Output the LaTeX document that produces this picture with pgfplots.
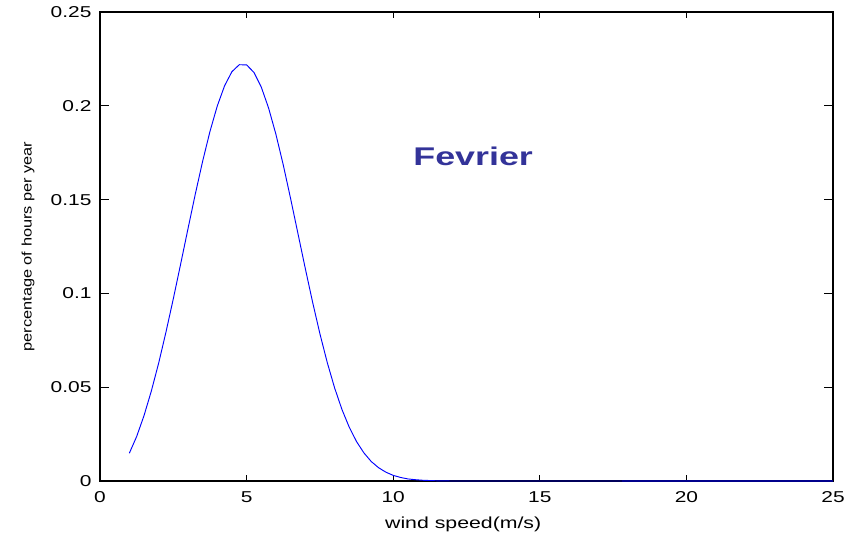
\documentclass[border=0pt]{standalone}
\usepackage{fontspec}
\setmainfont{Liberation Sans}[FakeStretch=1.33]
\newfontfamily\ylabfont{Liberation Sans}[FakeStretch=1.19]
\newfontfamily\titlefont{Liberation Sans}[FakeStretch=1.4]
\usepackage{pgfplots}
\pgfplotsset{compat=1.18}
\definecolor{titleblue}{RGB}{51,51,153}
\definecolor{navyline}{RGB}{0,0,140}
\begin{document}
\begin{tikzpicture}
\path[use as bounding box] (0,0) rectangle (646.5pt,400.5pt);
\begin{axis}[
  at={(75pt,39.75pt)}, anchor=south west,
  scale only axis, width=549.75pt, height=351.75pt,
  xmin=0, xmax=25, ymin=0, ymax=0.25,
  xtick={0,5,10,15,20,25},
  xticklabels={0,5,10,15,20,25},
  ytick={0,0.05,0.1,0.15,0.2,0.25},
  yticklabels={0,0.05,0.1,0.15,0.2,0.25},
  /pgf/number format/assume math mode=true,
  tick align=inside,
  major tick length=5.5pt,
  xtick style={/pgfplots/major tick length=4.5pt, line width=0.6pt, black},
  ytick style={/pgfplots/major tick length=6.5pt, line width=0.6pt, black},
  axis line style={line width=0.9pt, black},
  ticklabel style={font=\fontsize{11.8pt}{14pt}\selectfont},
  xticklabel style={anchor=north, inner sep=0pt, yshift=-8pt},
  yticklabel style={anchor=east, inner sep=0pt, xshift=-6.2pt},
  every axis x label/.style={at={(axis description cs:0.4955,-0.0917)}, anchor=center},
  every axis y label/.style={at={(axis description cs:-0.0982,0.5)}, rotate=90, anchor=center},
  xlabel={\fontsize{12pt}{14pt}\selectfont wind speed(m/s)},
  ylabel={\ylabfont\fontsize{10.3pt}{12pt}\selectfont percentage of hours per year},
  clip=false,
]
\addplot[color={rgb,255:red,0;green,0;blue,255}, line width=0.7pt] coordinates {
(1,0.0148) (1.25,0.0237) (1.5,0.0348) (1.75,0.0479) (2,0.0628) (2.25,0.0794)
(2.5,0.0971) (2.75,0.1156) (3,0.1344) (3.25,0.1529) (3.5,0.1704) (3.75,0.1863)
(4,0.1999) (4.25,0.2107) (4.5,0.2182) (4.75,0.2219) (5,0.2218) (5.25,0.2178)
(5.5,0.2100) (5.75,0.1988) (6,0.1848) (6.25,0.1685) (6.5,0.1506) (6.75,0.1320)
(7,0.1134) (7.25,0.0954) (7.5,0.0785) (7.75,0.0632) (8,0.0497) (8.25,0.0382)
(8.5,0.0287) (8.75,0.0210) (9,0.0150) (9.25,0.0104) (9.5,0.0071) (9.75,0.0047)
(10,0.0030) (10.25,0.0019) (10.5,0.0011) (10.75,0.0007) (11,0.0004) (11.5,0.0001)
(12,0) (25,0)
};
\addplot[color=navyline, line width=1.1pt] coordinates {(17.8,0) (25,0)};
\node[anchor=base west, inner sep=0pt, text=titleblue, font=\titlefont\bfseries\fontsize{19.2pt}{22pt}\selectfont] at (axis cs:10.68,0.1684) {Fevrier};
\end{axis}
\end{tikzpicture}
\end{document}
